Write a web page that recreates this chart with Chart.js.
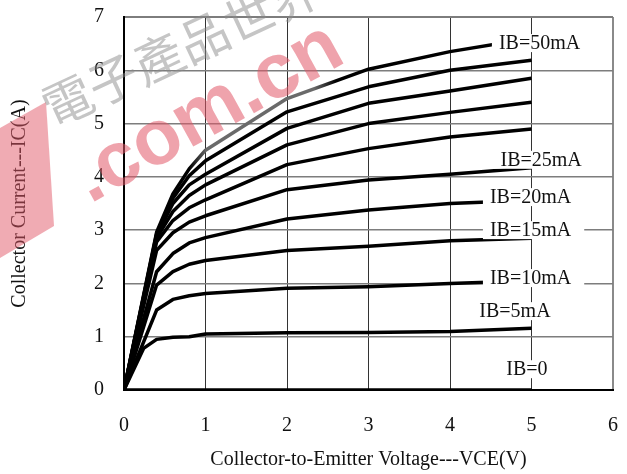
<!DOCTYPE html>
<html>
<head>
<meta charset="utf-8">
<script src="https://cdn.jsdelivr.net/npm/chart.js@4.4.1/dist/chart.umd.min.js"></script>
<style>
  html, body { margin: 0; padding: 0; background: #fff; }
  #wrap { width: 627px; height: 474px; }
</style>
</head>
<body>
<div id="wrap"><canvas id="chart" width="627" height="474"></canvas></div>
<script>
// Collector-emitter voltage sample points (V); null = no vertex for that curve
const vce  = [0, 0.24, 0.4, 0.6, 0.8, 1, 2, 3, 4, 5];

// Collector current IC (A) for each base current IB
const ib0  = [0, null, null, null, null, null, null, null, null, 0];
const ib5  = [0, 0.78, 0.95, 0.99, 1.00, 1.05, 1.075, 1.08, 1.10, 1.16];
const ib10 = [0, null, 1.50, 1.70, 1.77, 1.81, 1.91, 1.94, 2.00, 2.05];
const ib15 = [0, null, 1.97, 2.22, 2.36, 2.43, 2.62, 2.70, 2.80, 2.85];
const ib20 = [0, null, 2.22, 2.56, 2.76, 2.86, 3.21, 3.38, 3.50, 3.56];
const ib25 = [0, null, 2.62, 2.95, 3.15, 3.27, 3.76, 3.94, 4.05, 4.17];
const ib30 = [0, null, 2.78, 3.18, 3.42, 3.57, 4.23, 4.53, 4.75, 4.90];
const ib35 = [0, null, 2.85, 3.35, 3.65, 3.85, 4.60, 5.00, 5.21, 5.40];
const ib40 = [0, null, 2.90, 3.50, 3.85, 4.05, 4.91, 5.38, 5.61, 5.85];
const ib45 = [0, null, 2.93, 3.60, 4.02, 4.30, 5.22, 5.69, 6.00, 6.19];
const ib50 = [0, null, 2.96, 3.68, 4.15, 4.50, 5.47, 6.02, 6.35, 6.60];

const curveNames = ['IB=0', 'IB=5mA', 'IB=10mA', 'IB=15mA', 'IB=20mA', 'IB=25mA',
                    'IB=30mA', 'IB=35mA', 'IB=40mA', 'IB=45mA', 'IB=50mA'];
const curves = [ib0, ib5, ib10, ib15, ib20, ib25, ib30, ib35, ib40, ib45, ib50];

// Axis ticks
const xTicks = [0, 1, 2, 3, 4, 5, 6];
const yTicks = [0, 1, 2, 3, 4, 5, 6, 7];

const SERIF = "'Liberation Serif', 'Times New Roman', serif";

// Curve labels drawn inside the plot (anchor = left edge / vertical centre, in axis units)
const labelPlacement = [
  { name: 'IB=50mA', x: 4.60, y: 6.51 },
  { name: 'IB=25mA', x: 4.62, y: 4.32 },
  { name: 'IB=20mA', x: 4.49, y: 3.62 },
  { name: 'IB=15mA', x: 4.49, y: 3.00 },
  { name: 'IB=10mA', x: 4.49, y: 2.10 },
  { name: 'IB=5mA',  x: 4.36, y: 1.48 },
  { name: 'IB=0',    x: 4.69, y: 0.39 }
];

function toPoints(values) {
  return values.map((v, i) => ({ x: vce[i], y: v }));
}

// The IB=50mA trace fades to grey through its middle section
function fadedStroke(ctx) {
  const chart = ctx.chart;
  const xs = chart.scales.x;
  if (!chart.chartArea || !xs) return '#000';
  const x0 = xs.getPixelForValue(0.8), x1 = xs.getPixelForValue(2.6);
  const g = chart.ctx.createLinearGradient(x0, 0, x1, 0);
  g.addColorStop(0, '#000');
  g.addColorStop(0.12, '#6a6a6a');
  g.addColorStop(0.85, '#6a6a6a');
  g.addColorStop(1, '#000');
  return g;
}

const datasets = curves.map((vals, i) => ({
  label: curveNames[i],
  data: toPoints(vals),
  borderColor: i === curves.length - 1 ? fadedStroke : '#000',
  borderWidth: 3.5,
  pointRadius: 0,
  tension: 0,
  spanGaps: true,
  fill: false,
  borderJoinStyle: 'round'
}));

// Site watermark behind the curves
const watermark = {
  id: 'watermark',
  beforeDatasetsDraw(chart) {
    const c = chart.ctx;
    c.save();
    // red logo block
    c.fillStyle = 'rgba(226, 88, 104, 0.5)';
    c.beginPath();
    c.moveTo(0, 128); c.lineTo(46, 102); c.lineTo(54, 226); c.lineTo(0, 258);
    c.closePath(); c.fill();
    // grey characters
    c.save();
    c.translate(45, 111);
    c.rotate(-25 * Math.PI / 180);
    c.font = "50px 'Noto Sans CJK TC'";
    c.textBaseline = 'middle';
    c.textAlign = 'left';
    c.fillStyle = 'rgba(140, 140, 140, 0.5)';
    c.fillText('電子產品世界', 0, 0);
    c.restore();
    // red domain text
    c.save();
    c.translate(90, 204);
    c.rotate(-29 * Math.PI / 180);
    c.font = "bold 78px 'Liberation Sans'";
    c.textBaseline = 'alphabetic';
    c.textAlign = 'left';
    c.fillStyle = 'rgba(226, 88, 104, 0.55)';
    c.fillText('.com.cn', 0, 0);
    c.restore();
    c.restore();
  }
};

// Boxed curve labels on top of the curves
const curveLabels = {
  id: 'curveLabels',
  afterDatasetsDraw(chart) {
    const c = chart.ctx;
    const xs = chart.scales.x, ys = chart.scales.y;
    c.save();
    c.font = '20px ' + SERIF;
    c.textBaseline = 'middle';
    c.textAlign = 'left';
    labelPlacement.forEach(l => {
      const px = xs.getPixelForValue(l.x);
      const py = ys.getPixelForValue(l.y);
      const m = c.measureText(l.name);
      c.fillStyle = '#fff';
      c.fillRect(px - 7, py - 9, m.width + 20, 18);
      c.fillStyle = '#111';
      c.fillText(l.name, px, py + 1);
    });
    c.restore();
  }
};

new Chart(document.getElementById('chart'), {
  type: 'line',
  data: { datasets },
  plugins: [watermark, curveLabels],
  options: {
    responsive: false,
    animation: false,
    devicePixelRatio: 1,
    layout: { padding: { top: 17, right: 14, left: 0, bottom: 0 } },
    plugins: { legend: { display: false }, tooltip: { enabled: false } },
    scales: {
      x: {
        type: 'linear',
        min: xTicks[0],
        max: xTicks[xTicks.length - 1],
        afterBuildTicks: s => { s.ticks = xTicks.map(v => ({ value: v })); },
        afterFit: s => { s.height = 84; },
        ticks: { color: '#111', font: { family: SERIF, size: 20 }, padding: 0, maxRotation: 0 },
        grid: {
          drawTicks: true,
          tickLength: 24,
          tickColor: 'rgba(0,0,0,0)',
          color: ctx => ctx.tick && ctx.tick.value === 6 ? '#8a8a8a' : '#333',
          lineWidth: ctx => ctx.tick && ctx.tick.value === 6 ? 2 : 1
        },
        border: { display: true, color: '#000', width: 2 },
        title: {
          display: true,
          text: 'Collector-to-Emitter Voltage---VCE(V)',
          color: '#111',
          font: { family: SERIF, size: 20 },
          padding: { top: 0, bottom: 2 }
        }
      },
      y: {
        type: 'linear',
        min: yTicks[0],
        max: yTicks[yTicks.length - 1],
        afterBuildTicks: s => { s.ticks = yTicks.map(v => ({ value: v })); },
        afterFit: s => { s.width = 124; },
        ticks: { color: '#111', font: { family: SERIF, size: 20 }, padding: 0 },
        grid: {
          drawTicks: true,
          tickLength: 20,
          tickColor: 'rgba(0,0,0,0)',
          color: '#7d7d7d',
          lineWidth: ctx => ctx.tick && ctx.tick.value === 7 ? 2 : 1.5
        },
        border: { display: true, color: '#000', width: 2 },
        title: {
          display: true,
          text: 'Collector Current---IC(A)',
          color: '#111',
          font: { family: SERIF, size: 20 },
          padding: { top: 8, bottom: 0 }
        }
      }
    }
  }
});
</script>
</body>
</html>
